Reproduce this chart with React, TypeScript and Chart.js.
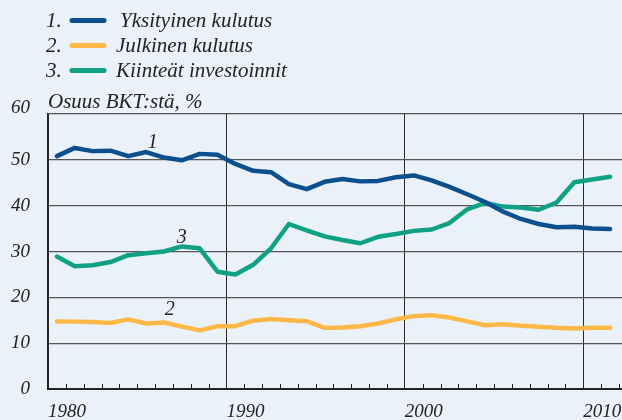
import React, { useEffect, useRef } from "react";
import { Chart, registerables } from "chart.js";

Chart.register(...registerables);

// ---- Data ----
const years: number[] = [
  1980, 1981, 1982, 1983, 1984, 1985, 1986, 1987, 1988, 1989,
  1990, 1991, 1992, 1993, 1994, 1995, 1996, 1997, 1998, 1999,
  2000, 2001, 2002, 2003, 2004, 2005, 2006, 2007, 2008, 2009,
  2010, 2011,
];

const yksityinenKulutus: number[] = [
  50.8, 52.6, 51.9, 52.0, 50.8, 51.7, 50.5, 49.9, 51.3, 51.1,
  49.1, 47.6, 47.3, 44.7, 43.6, 45.2, 45.8, 45.3, 45.4, 46.2,
  46.6, 45.5, 44.1, 42.5, 40.8, 38.7, 37.1, 36.0, 35.3, 35.4,
  35.0, 34.9,
];

const julkinenKulutus: number[] = [
  14.75, 14.7, 14.6, 14.4, 15.2, 14.3, 14.5, 13.65, 12.8, 13.7,
  13.7, 14.9, 15.25, 15.0, 14.8, 13.35, 13.4, 13.7, 14.3, 15.2,
  15.9, 16.1, 15.6, 14.75, 13.9, 14.15, 13.8, 13.6, 13.35, 13.2,
  13.35, 13.35,
];

const kiinteatInvestoinnit: number[] = [
  28.9, 26.8, 27.0, 27.7, 29.2, 29.6, 30.0, 31.1, 30.7, 25.6,
  25.0, 27.1, 30.7, 36.0, 34.6, 33.3, 32.5, 31.8, 33.2, 33.8,
  34.5, 34.8, 36.2, 39.2, 40.6, 39.8, 39.6, 39.1, 40.7, 45.1,
  45.7, 46.3,
];

const seriesNames: string[] = [
  "Yksityinen kulutus",
  "Julkinen kulutus",
  "Kiinteät investoinnit",
];
const seriesNumbers: string[] = ["1.", "2.", "3."];
const lineLabels: string[] = ["1", "2", "3"];

const yTicks: number[] = [0, 10, 20, 30, 40, 50, 60];
const xTicks: number[] = [1980, 1990, 2000, 2010];
const yAxisTitle = "Osuus BKT:stä, %";

// ---- Styles ----
const COLORS = ["#0b4f8c", "#fdb847", "#10a184"];
const BG = "#eaf1f8";
const TEXT = "#222222";
const FONT_FAMILY = "'Liberation Serif', 'DejaVu Serif', serif";

// label anchor positions in data units (x year, y value)
const LABEL_POS = [
  { x: 1985.87, y: 53.8 },
  { x: 1986.83, y: 17.4 },
  { x: 1987.5, y: 32.9 },
];

const overlayPlugin = {
  id: "overlay",
  afterDraw(chart: any) {
    const ctx = chart.ctx;
    const xs = chart.scales.x;
    const ys = chart.scales.y;
    const area = chart.chartArea;
    ctx.save();

    // minor yearly tick marks, pointing up from the x axis
    ctx.strokeStyle = "#222";
    ctx.lineWidth = 1;
    for (let yr = Math.ceil(xs.min); yr <= xs.max; yr++) {
      if (yr % 10 === 0) continue;
      const px = Math.round(xs.getPixelForValue(yr)) + 0.5;
      ctx.beginPath();
      ctx.moveTo(px, area.bottom);
      ctx.lineTo(px, area.bottom - 5);
      ctx.stroke();
    }

    // top y tick label, raised above the top line
    const topVal = yTicks[yTicks.length - 1];
    ctx.fillStyle = TEXT;
    ctx.font = `italic 19px ${FONT_FAMILY}`;
    ctx.textAlign = "right";
    ctx.textBaseline = "middle";
    ctx.fillText(String(topVal), 30, ys.getPixelForValue(topVal) - 6);

    // line labels 1,2,3
    ctx.font = `italic 20px ${FONT_FAMILY}`;
    ctx.textAlign = "center";
    ctx.textBaseline = "middle";
    lineLabels.forEach((t, i) => {
      ctx.fillText(
        t,
        xs.getPixelForValue(LABEL_POS[i].x),
        ys.getPixelForValue(LABEL_POS[i].y)
      );
    });

    // axis title
    ctx.font = `italic 21px ${FONT_FAMILY}`;
    ctx.textAlign = "left";
    ctx.textBaseline = "alphabetic";
    ctx.fillText(yAxisTitle, 48, 108);

    // legend
    const rowsY = [20.5, 45.5, 70.5];
    const textX = [120, 116, 116];
    seriesNames.forEach((name, i) => {
      const cy = rowsY[i];
      ctx.fillStyle = TEXT;
      ctx.textAlign = "left";
      ctx.textBaseline = "middle";
      ctx.fillText(seriesNumbers[i], 46, cy + 1);
      ctx.strokeStyle = COLORS[i];
      ctx.lineWidth = 5;
      ctx.lineCap = "round";
      ctx.beginPath();
      ctx.moveTo(72, cy);
      ctx.lineTo(104, cy);
      ctx.stroke();
      ctx.fillStyle = TEXT;
      ctx.fillText(name, textX[i], cy + 1);
    });
    ctx.restore();
  },
};

export default function App() {
  const canvasRef = useRef<HTMLCanvasElement | null>(null);

  useEffect(() => {
    if (!canvasRef.current) return;
    const mk = (vals: number[]) =>
      years.map((yr, i) => ({ x: yr + 0.5, y: vals[i] }));

    const chart = new Chart(canvasRef.current, {
      type: "line",
      data: {
        datasets: [
          { label: seriesNames[0], data: mk(yksityinenKulutus) },
          { label: seriesNames[1], data: mk(julkinenKulutus) },
          { label: seriesNames[2], data: mk(kiinteatInvestoinnit) },
        ].map((d, i) => ({
          ...d,
          borderColor: COLORS[i],
          backgroundColor: COLORS[i],
          borderWidth: 4.5,
          pointRadius: 0,
          tension: 0,
          borderJoinStyle: "round" as const,
          borderCapStyle: "round" as const,
          fill: false,
        })),
      },
      options: {
        responsive: false,
        animation: false,
        devicePixelRatio: 1,
        layout: { padding: { top: 114, left: 0, right: 0, bottom: 0 } },
        plugins: {
          legend: { display: false },
          title: { display: false },
          tooltip: { enabled: false },
        },
        scales: {
          x: {
            type: "linear",
            min: 1980,
            max: 2012.17,
            afterBuildTicks: (axis: any) => {
              axis.ticks = xTicks.map((v) => ({ value: v }));
            },
            afterFit: (axis: any) => {
              axis.height = 31;
              axis.paddingLeft = 0;
              axis.paddingRight = 0;
            },
            ticks: {
              align: "start",
              maxRotation: 0,
              autoSkip: false,
              padding: 12,
              color: TEXT,
              font: { family: FONT_FAMILY, size: 19, style: "italic" },
              callback: (v: any) => String(v),
            },
            grid: {
              color: "#2a2a2a",
              lineWidth: 1,
              drawTicks: false,
            },
            border: { display: true, color: "#222", width: 2 },
          },
          y: {
            min: 0,
            max: 60,
            afterBuildTicks: (axis: any) => {
              axis.ticks = yTicks.map((v) => ({ value: v }));
            },
            afterFit: (axis: any) => {
              axis.width = 48;
              axis.paddingTop = 0;
              axis.paddingBottom = 0;
            },
            ticks: {
              padding: 18,
              color: TEXT,
              font: { family: FONT_FAMILY, size: 19, style: "italic" },
              callback: (v: any) =>
                v === yTicks[yTicks.length - 1] ? "" : String(v),
            },
            grid: {
              color: "#555",
              lineWidth: 1.3,
              drawTicks: false,
            },
            border: { display: true, color: "#222", width: 1.5 },
          },
        },
      },
      plugins: [overlayPlugin],
    } as any);

    return () => chart.destroy();
  }, []);

  return (
    <div
      style={{
        position: "fixed",
        left: 0,
        top: 0,
        width: 622,
        height: 420,
        background: BG,
      }}
    >
      <canvas
        ref={canvasRef}
        width={622}
        height={420}
        style={{ display: "block", width: 622, height: 420 }}
      />
    </div>
  );
}
